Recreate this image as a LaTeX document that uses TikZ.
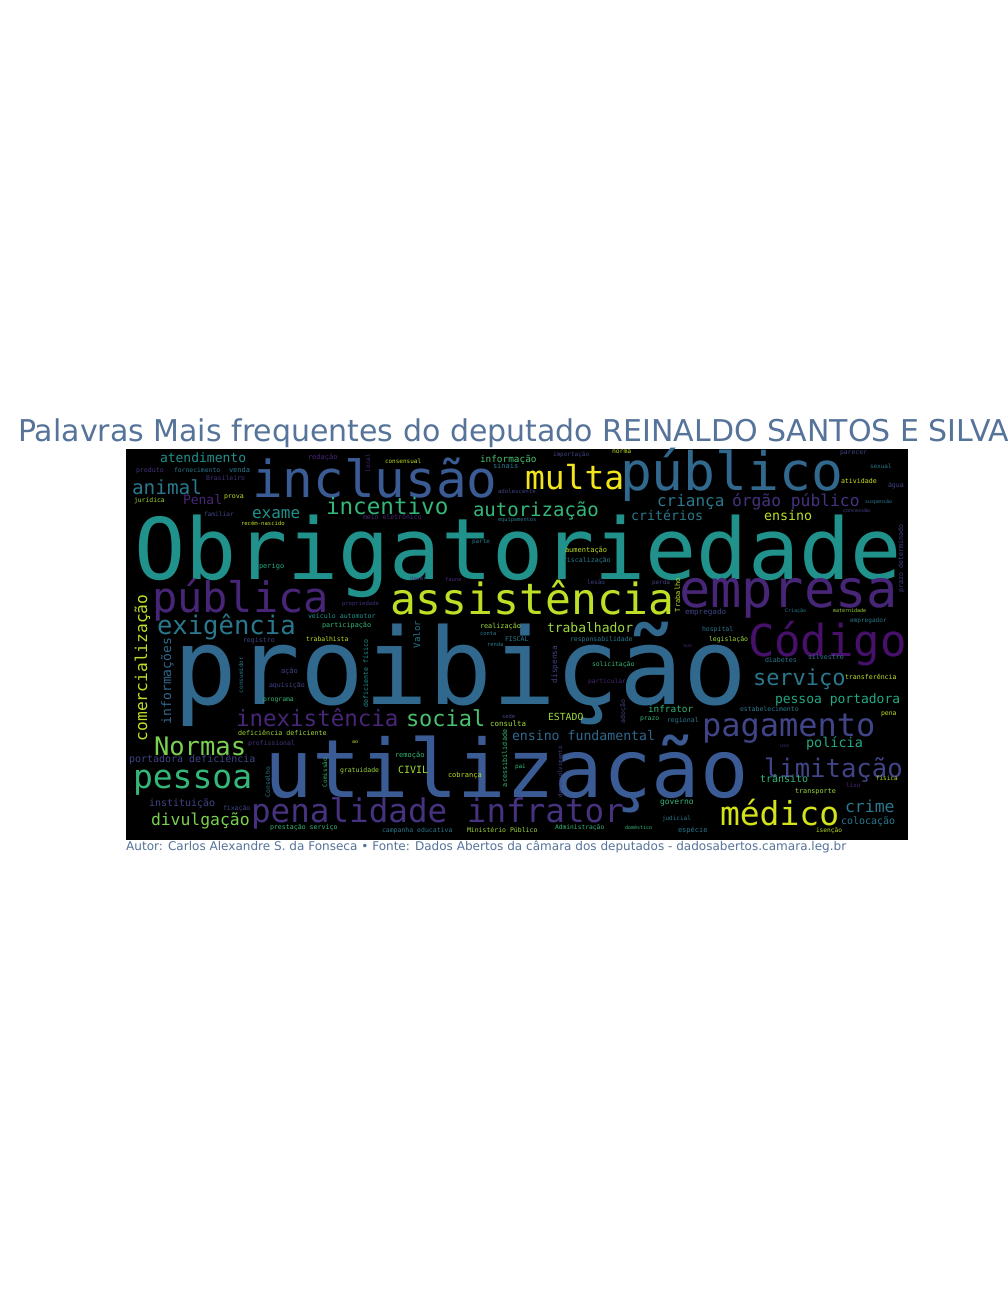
\documentclass[tikz,border=0pt]{standalone}
\usepackage{fontspec}
\setmainfont{DejaVu Sans}
\newfontfamily\wcfont{DejaVu Sans Mono}
\definecolor{ttl}{HTML}{56739A}
\definecolor{cA}{HTML}{F2E51D}
\definecolor{cB}{HTML}{D2E21B}
\definecolor{cC}{HTML}{BDDF26}
\definecolor{cD}{HTML}{A0DA39}
\definecolor{cE}{HTML}{7AD151}
\definecolor{cF}{HTML}{4AC16D}
\definecolor{cG}{HTML}{35B779}
\definecolor{cH}{HTML}{22A884}
\definecolor{cI}{HTML}{21918C}
\definecolor{cJ}{HTML}{2A788E}
\definecolor{cK}{HTML}{31688E}
\definecolor{cL}{HTML}{3A5B94}
\definecolor{cM}{HTML}{414487}
\definecolor{cN}{HTML}{46327E}
\definecolor{cO}{HTML}{482677}
\definecolor{cP}{HTML}{47106A}
\newcounter{wcn}
\tikzset{
  wtxt/.style={anchor=base west, inner sep=0pt, outer sep=0pt},
  vtxt/.style={anchor=base west, inner sep=0pt, outer sep=0pt, rotate=90},
  ttltxt/.style={anchor=base west, inner sep=0pt, text=ttl}
}
\newcommand{\wc}[5]{\stepcounter{wcn}\node[wtxt, text=#4, font=\wcfont\fontsize{#3}{#3}\selectfont] (w\arabic{wcn}) at (#1,#2) {#5};}
\newcommand{\wv}[5]{\stepcounter{wcn}\node[vtxt, text=#4, font=\wcfont\fontsize{#3}{#3}\selectfont] (w\arabic{wcn}) at (#1,#2) {#5};}
\begin{document}
\begin{tikzpicture}[x=1pt,y=-1pt]
\useasboundingbox (0,0) rectangle (1008,1296);
\fill[white] (0,0) rectangle (1008,1296);
\node[ttltxt, font=\fontsize{30}{30}\selectfont] (title) at (18,441) {Palavras Mais frequentes do deputado REINALDO SANTOS E SILVA};
\fill[black] (126,449) rectangle (908,840);
% big words
\wc{134}{579}{85}{cI}{Obrigatoriedade}
\wc{173}{704}{106}{cK}{proibição}
\wc{264}{797}{80.5}{cL}{utilização}
\wc{252}{497}{51}{cL}{inclusão}
\wc{620}{490}{53}{cK}{público}
\wc{152}{612}{42}{cO}{pública}
\wc{679}{607}{52}{cO}{empresa}
\wc{390}{614}{43}{cC}{assistência}
\wc{748}{656}{44}{cP}{Código}
\wc{525}{489}{33}{cA}{multa}
\wc{702}{736}{32}{cM}{pagamento}
\wc{764}{777}{25.6}{cM}{limitação}
\wc{720}{825}{33}{cB}{médico}
\wc{251}{822}{32.6}{cN}{penalidade infrator}
\wc{133}{788}{33}{cG}{pessoa}
\wc{154}{755}{25.5}{cE}{Normas}
% medium words
\wc{753}{685}{22}{cJ}{serviço}
\wc{775}{703}{13}{cH}{pessoa portadora}
\wc{806}{747}{13.5}{cH}{polícia}
\wc{845}{812}{16.5}{cJ}{crime}
\wc{841}{824}{10}{cJ}{colocação}
\wc{406}{726}{22}{cF}{social}
\wc{236}{726}{22.5}{cO}{inexistência}
\wc{157}{634}{25.6}{cJ}{exigência}
\wc{132}{494}{19.4}{cJ}{animal}
\wc{160}{462}{13}{cI}{atendimento}
\wc{183}{504}{13}{cO}{Penal}
\wc{252}{518}{16}{cI}{exame}
\wc{326}{514}{22.6}{cG}{incentivo}
\wc{473}{516}{19}{cG}{autorização}
\wc{657}{506}{16}{cJ}{criança}
\wc{732}{506}{16.3}{cN}{órgão público}
\wc{631}{520}{13.3}{cJ}{critérios}
\wc{764}{520}{13.3}{cC}{ensino}
\wc{547}{632}{13}{cD}{trabalhador}
\wv{147}{741}{16.2}{cC}{comercialização}
\wv{171}{724}{13}{cK}{informações}
\wc{129}{762}{10}{cM}{portadora deficiência}
\wc{149}{806}{10}{cM}{instituição}
\wc{151}{825}{16.4}{cE}{divulgação}
\wc{512}{740}{13.2}{cK}{ensino fundamental}
\wc{760}{782}{10}{cG}{trânsito}
\wc{648}{712}{9.4}{cG}{infrator}
\wc{548}{720}{9.8}{cD}{ESTADO}
\wc{480}{462}{9.4}{cF}{informação}
\wc{398}{773}{10}{cD}{CIVIL}
\wv{420}{648}{9}{cJ}{Valor}
% small words
\wc{223}{810}{6.5}{cM}{fixação}
\wc{270}{829}{6.6}{cG}{prestação serviço}
\wc{238}{735}{6.7}{cD}{deficiência deficiente}
\wc{248}{745}{6.5}{cN}{profissional}
\wc{263}{701}{6.4}{cG}{programa}
\wc{269}{687}{6.6}{cM}{aquisição}
\wc{281}{673}{7}{cM}{ação}
\wv{243}{693}{6}{cJ}{consumidor}
\wc{243}{642}{6.6}{cM}{registro}
\wc{136}{472}{6.6}{cN}{produto}
\wc{174}{472}{6.4}{cJ}{fornecimento}
\wc{229}{472}{7}{cJ}{venda}
\wc{206}{480}{6.5}{cN}{Brasileiro}
\wc{134}{502}{6.4}{cD}{jurídica}
\wc{224}{498}{6.6}{cC}{prova}
\wc{204}{516}{6.2}{cM}{familiar}
\wc{241}{525}{5.6}{cC}{recém-nascido}
\wc{259}{568}{7}{cH}{perigo}
\wc{308}{459}{7}{cO}{redação}
\wv{370}{472}{6}{cO}{local}
\wc{385}{463}{6}{cC}{consensual}
\wc{493}{468}{7}{cJ}{sinais}
\wc{498}{493}{5.7}{cM}{adolescente}
\wc{363}{519}{6.5}{cO}{meio eletrônico}
\wc{498}{521}{5.3}{cJ}{equipamentos}
\wc{472}{543}{6}{cJ}{parte}
\wc{410}{580}{5.5}{cM}{dever}
\wc{445}{581}{5.5}{cO}{fauna}
\wc{342}{605}{5.6}{cN}{propriedade}
\wc{322}{627}{6.8}{cG}{participação}
\wc{308}{618}{6.6}{cI}{veículo automotor}
\wc{306}{641}{6.4}{cC}{trabalhista}
\wc{480}{628}{6.8}{cD}{realização}
\wc{480}{635}{5.5}{cJ}{conta}
\wc{505}{641}{6.5}{cJ}{FISCAL}
\wc{487}{646}{5.5}{cJ}{renda}
\wc{553}{456}{6}{cM}{importação}
\wc{612}{453}{6.4}{cC}{norma}
\wc{565}{552}{7}{cC}{aumentação}
\wc{563}{562}{6.6}{cJ}{fiscalização}
\wc{587}{584}{6}{cM}{lesão}
\wc{652}{584}{6}{cM}{perda}
\wv{680}{612}{7}{cC}{Trabalho}
\wc{685}{614}{7.6}{cM}{empregado}
\wc{570}{641}{6.5}{cJ}{responsabilidade}
\wc{840}{454}{6.4}{cM}{parecer}
\wc{870}{468}{6}{cJ}{sexual}
\wc{841}{483}{6.6}{cB}{atividade}
\wc{888}{487}{6.6}{cM}{água}
\wc{865}{503}{5}{cJ}{suspensão}
\wc{843}{512}{5}{cM}{concessão}
\wv{903}{592}{6.6}{cM}{prazo determinado}
\wc{785}{612}{5}{cJ}{Criação}
\wc{833}{612}{5}{cD}{maternidade}
\wc{850}{622}{6.1}{cJ}{empregador}
\wc{702}{631}{6.5}{cJ}{hospital}
\wc{709}{641}{6.5}{cD}{legislação}
\wc{765}{662}{6.6}{cJ}{diabetes}
\wc{808}{659}{6.6}{cJ}{silvestre}
\wc{845}{679}{6.6}{cC}{transferência}
\wc{740}{711}{6.5}{cJ}{estabelecimento}
\wc{881}{715}{6.5}{cC}{pena}
\wc{780}{747}{5}{cO}{uso}
\wc{876}{780}{6}{cC}{física}
\wc{846}{787}{6}{cO}{lixo}
\wc{795}{793}{6.8}{cD}{transporte}
\wc{816}{832}{6.2}{cC}{isenção}
\wv{557}{683}{7.7}{cM}{dispensa}
\wc{592}{666}{6.4}{cG}{solicitação}
\wc{588}{683}{6.3}{cO}{particular}
\wv{625}{723}{6.5}{cM}{adoção}
\wc{640}{720}{6.4}{cG}{prazo}
\wc{667}{722}{6.6}{cJ}{regional}
\wv{562}{797}{5.6}{cM}{desenvolvimento}
\wc{660}{804}{8}{cG}{governo}
\wc{662}{820}{6}{cJ}{judicial}
\wc{625}{829}{5}{cG}{doméstico}
\wc{555}{829}{6.3}{cG}{Administração}
\wc{678}{832}{7}{cJ}{espécie}
\wc{467}{832}{6.5}{cD}{Ministério Público}
\wv{368}{707}{6.6}{cI}{deficiente físico}
\wc{502}{718}{5.5}{cM}{sede}
\wc{490}{726}{7.5}{cD}{consulta}
\wc{352}{743}{5}{cC}{ao}
\wc{395}{757}{7}{cG}{remoção}
\wc{340}{772}{6.5}{cD}{gratuidade}
\wc{448}{777}{7}{cC}{cobrança}
\wv{270}{797}{6.3}{cJ}{Conselho}
\wv{327}{787}{6}{cG}{Comissão}
\wv{507}{787}{6.8}{cG}{acessibilidade}
\wc{515}{768}{6}{cG}{pai}
\wc{382}{832}{6.5}{cJ}{campanha educativa}
\wc{683}{647}{5}{cO}{sus}
% footer
\node[ttltxt, font=\fontsize{11.5}{11.5}\selectfont] (footer) at (126,850) {\resizebox{720pt}{!}{Autor: Carlos Alexandre S. da Fonseca • Fonte: Dados Abertos da câmara dos deputados - dadosabertos.camara.leg.br}};
\end{tikzpicture}
\end{document}
